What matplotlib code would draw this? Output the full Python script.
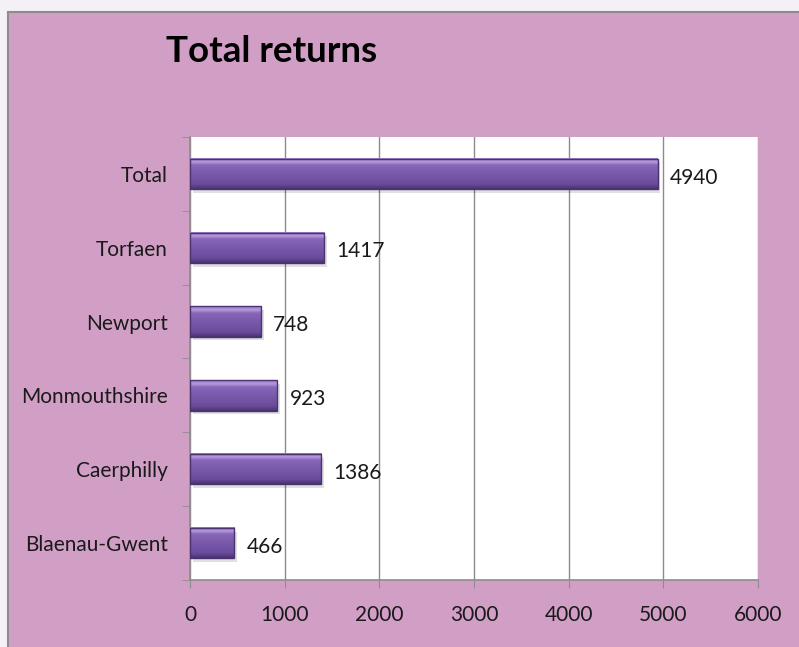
import matplotlib.pyplot as plt
import numpy as np
from matplotlib.colors import LinearSegmentedColormap
from matplotlib.patches import Rectangle

categories = ["Blaenau-Gwent", "Caerphilly", "Monmouthshire", "Newport", "Torfaen", "Total"]
returns = [466, 1386, 923, 748, 1417, 4940]
x_ticks = [0, 1000, 2000, 3000, 4000, 5000, 6000]

PANEL = "#D19FC6"
FONT = ["Lato", "DejaVu Sans"]

plt.rcParams["font.family"] = FONT

fig = plt.figure(figsize=(7.99, 6.47), dpi=100)
fig.patch.set_facecolor("#F4F0F5")
panel = Rectangle((8 / 799, -0.05), 1.0, 1 - 12 / 647 + 0.05,
                  transform=fig.transFigure, facecolor=PANEL,
                  edgecolor="#8C8C8C", linewidth=1.5, zorder=-10)
fig.patches.append(panel)

ax = fig.add_axes([190 / 799, 1 - 580 / 647, 568 / 799, 443 / 647])
ax.set_facecolor("white")

# bevelled bar look: dark lower edge, flat purple body, light top strip
bar_cmap = LinearSegmentedColormap.from_list(
    "bevel", [(0.0, "#4A3272"), (0.15, "#6A4B9A"), (0.5, "#7A59AC"),
              (0.78, "#8767B8"), (0.88, "#B497DC"), (1.0, "#9C7DCA")])
grad = np.linspace(0, 1, 64).reshape(-1, 1)
height = 0.41
ypos = np.arange(len(categories))
for y, v in zip(ypos, returns):
    # soft shadow
    ax.barh(y - 0.05, v, height=height, left=30, color="#000000", alpha=0.12,
            zorder=2, linewidth=0)
    ax.imshow(grad, cmap=bar_cmap, aspect="auto", origin="lower",
              extent=(0, v, y - height / 2, y + height / 2), zorder=3)
    ax.barh(y, v, height=height, facecolor="none", edgecolor="#4A336E",
            linewidth=1.0, zorder=4)
    ax.text(v + 130, y - 0.05, str(v), va="center", ha="left", fontsize=15,
            color="#1A1A1A", zorder=5)

ax.set_xlim(0, 6000)
ax.set_ylim(-0.5, len(categories) - 0.5)
ax.set_xticks(x_ticks)
ax.set_xticklabels([str(t) for t in x_ticks], fontsize=15, color="#1A1A1A")
ax.set_yticks(ypos)
ax.set_yticklabels(categories, fontsize=15, color="#1A1A1A")
ax.set_yticks(np.arange(-0.5, len(categories), 1.0), minor=True)
ax.tick_params(axis="y", which="major", length=0, pad=16)
ax.tick_params(axis="y", which="minor", length=6, color="#8C8C8C", direction="out")
ax.tick_params(axis="x", length=6, color="#8C8C8C", direction="out", pad=12)

ax.grid(axis="x", color="#8C8C8C", linewidth=1.0, zorder=1)
ax.set_axisbelow(True)
for side in ["top", "right"]:
    ax.spines[side].set_visible(False)
for side in ["left", "bottom"]:
    ax.spines[side].set_color("#8C8C8C")
    ax.spines[side].set_linewidth(1.2)

fig.text(272 / 799, 1 - 52 / 647, "Total returns", ha="center", va="center",
         fontsize=26.5, fontweight="bold", color="black")

fig.savefig("out.png", dpi=100, facecolor=fig.get_facecolor())
